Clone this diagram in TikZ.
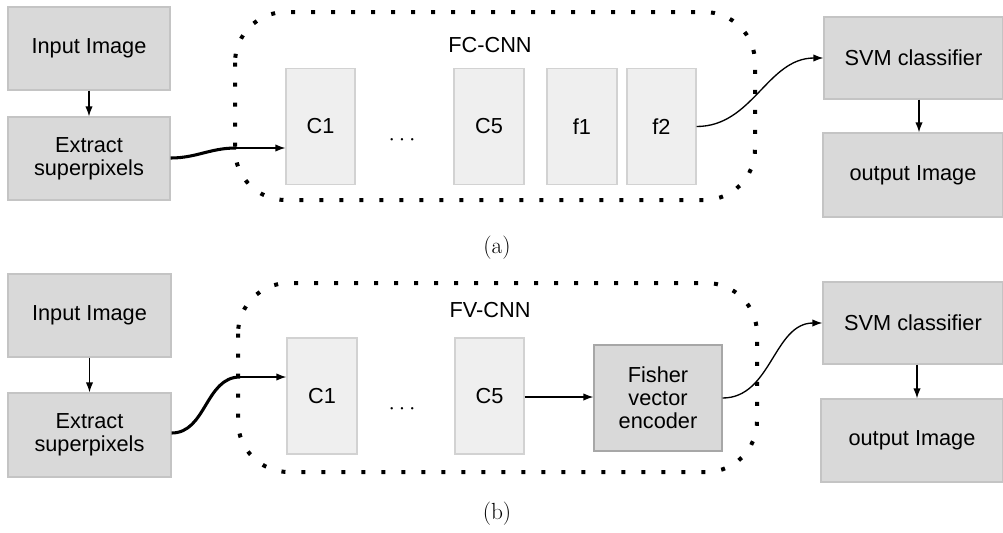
\documentclass[tikz,border=0pt]{standalone}
\usepackage{fontspec}
\setsansfont{Liberation Sans}
\usetikzlibrary{arrows.meta}
\definecolor{boxfill}{HTML}{D9D9D9}
\definecolor{boxline}{HTML}{C4C4C4}
\definecolor{layfill}{HTML}{EFEFEF}
\definecolor{layline}{HTML}{D2D2D2}
\begin{document}
\begin{tikzpicture}[x=0.75pt,y=-0.75pt,
  every node/.style={font=\sffamily\fontsize{16.3}{17.3}\selectfont, inner sep=0pt, align=center},
  obox/.style={draw=boxline, fill=boxfill, line width=0.9pt},
  lbox/.style={draw=layline, fill=layfill, line width=0.9pt, minimum height=86.5pt},
  dotbox/.style={draw=black, line width=3pt, dash pattern=on 3pt off 12pt, rounded corners=38pt},
  arr/.style={-{Latex[length=7.5pt,width=5.5pt]}, line width=1pt},
  thickcurve/.style={line width=2.3pt},
  captext/.style={font=\rmfamily\fontsize{17.5}{20}\selectfont}
]
\useasboundingbox (0,0) rectangle (1003,532);

% ---------------- (a) ----------------
\draw[dotbox] (235,12) rectangle (755,200);
\node (fcA) at (490,45) {FC-CNN};
\node[obox, minimum width=121.5pt, minimum height=62.25pt] (inA) at (89,48.5) {Input Image};
\node[obox, minimum width=121.5pt, minimum height=62.25pt] (exA) at (89,158.5) {Extract\\superpixels};
\node[lbox, minimum width=51.75pt] (c1A) at (320.5,126.5) {C1};
\node (dotsA) at (402,140) {$\cdots$};
\node[lbox, minimum width=52.5pt] (c5A) at (489,126.5) {C5};
\node[lbox, minimum width=52.5pt] (f1A) at (582,126.5) {f1};
\node[lbox, minimum width=51.75pt] (f2A) at (661.5,126.5) {f2};
\node[obox, minimum width=134.25pt, minimum height=61.5pt] (svmA) at (913.5,58) {SVM classifier};
\node[obox, minimum width=135pt, minimum height=63pt] (outA) at (913,175) {output Image};
\coordinate (jA) at (236,148);
\node[captext] (capA) at (497,248) {(a)};

\draw[arr] (inA.south) -- (exA.north);
\draw[thickcurve] (exA.east |- 0,158) to[out=0,in=180] (jA);
\draw[arr] (jA) -- (jA -| c1A.west);
\draw[arr] (f2A.east) to[out=0,in=180] (svmA.west);
\draw[arr] (svmA.south -| 919,0) -- (outA.north -| 919,0);

% ---------------- (b) ----------------
\draw[dotbox] (238,283) rectangle (757,472);
\node (fvB) at (490,310) {FV-CNN};
\node[obox, minimum width=122.25pt, minimum height=62.25pt] (inB) at (89.5,315.5) {Input Image};
\node[obox, minimum width=122.25pt, minimum height=63pt] (exB) at (89.5,435) {Extract\\superpixels};
\node[lbox, minimum width=52.5pt, minimum height=87pt] (c1B) at (322,396) {C1};
\node (dotsB) at (402,409) {$\cdots$};
\node[lbox, minimum width=51.75pt, minimum height=87pt] (c5B) at (489.5,396) {C5};
\node[obox, draw=boxline!85!black, minimum width=96pt, minimum height=79.5pt] (fvec) at (658,398) {Fisher\\vector\\encoder};
\node[obox, minimum width=135pt, minimum height=61.5pt] (svmB) at (913,323) {SVM classifier};
\node[obox, minimum width=136.5pt, minimum height=62.25pt] (outB) at (912,440.5) {output Image};
\coordinate (jB) at (240,377);
\node[captext] (capB) at (497,514) {(b)};

\draw[arr] (inB.south) -- (exB.north);
\draw[thickcurve] (exB.east |- 0,433) to[out=0,in=180] (jB);
\draw[arr] (jB) -- (jB -| c1B.west);
\draw[arr] (c5B.east |- 0,397) -- (fvec.west |- 0,397);
\draw[arr] (fvec.east) to[out=0,in=180] (svmB.west);
\draw[arr] (svmB.south -| 917,0) -- (outB.north -| 917,0);
\end{tikzpicture}
\end{document}
